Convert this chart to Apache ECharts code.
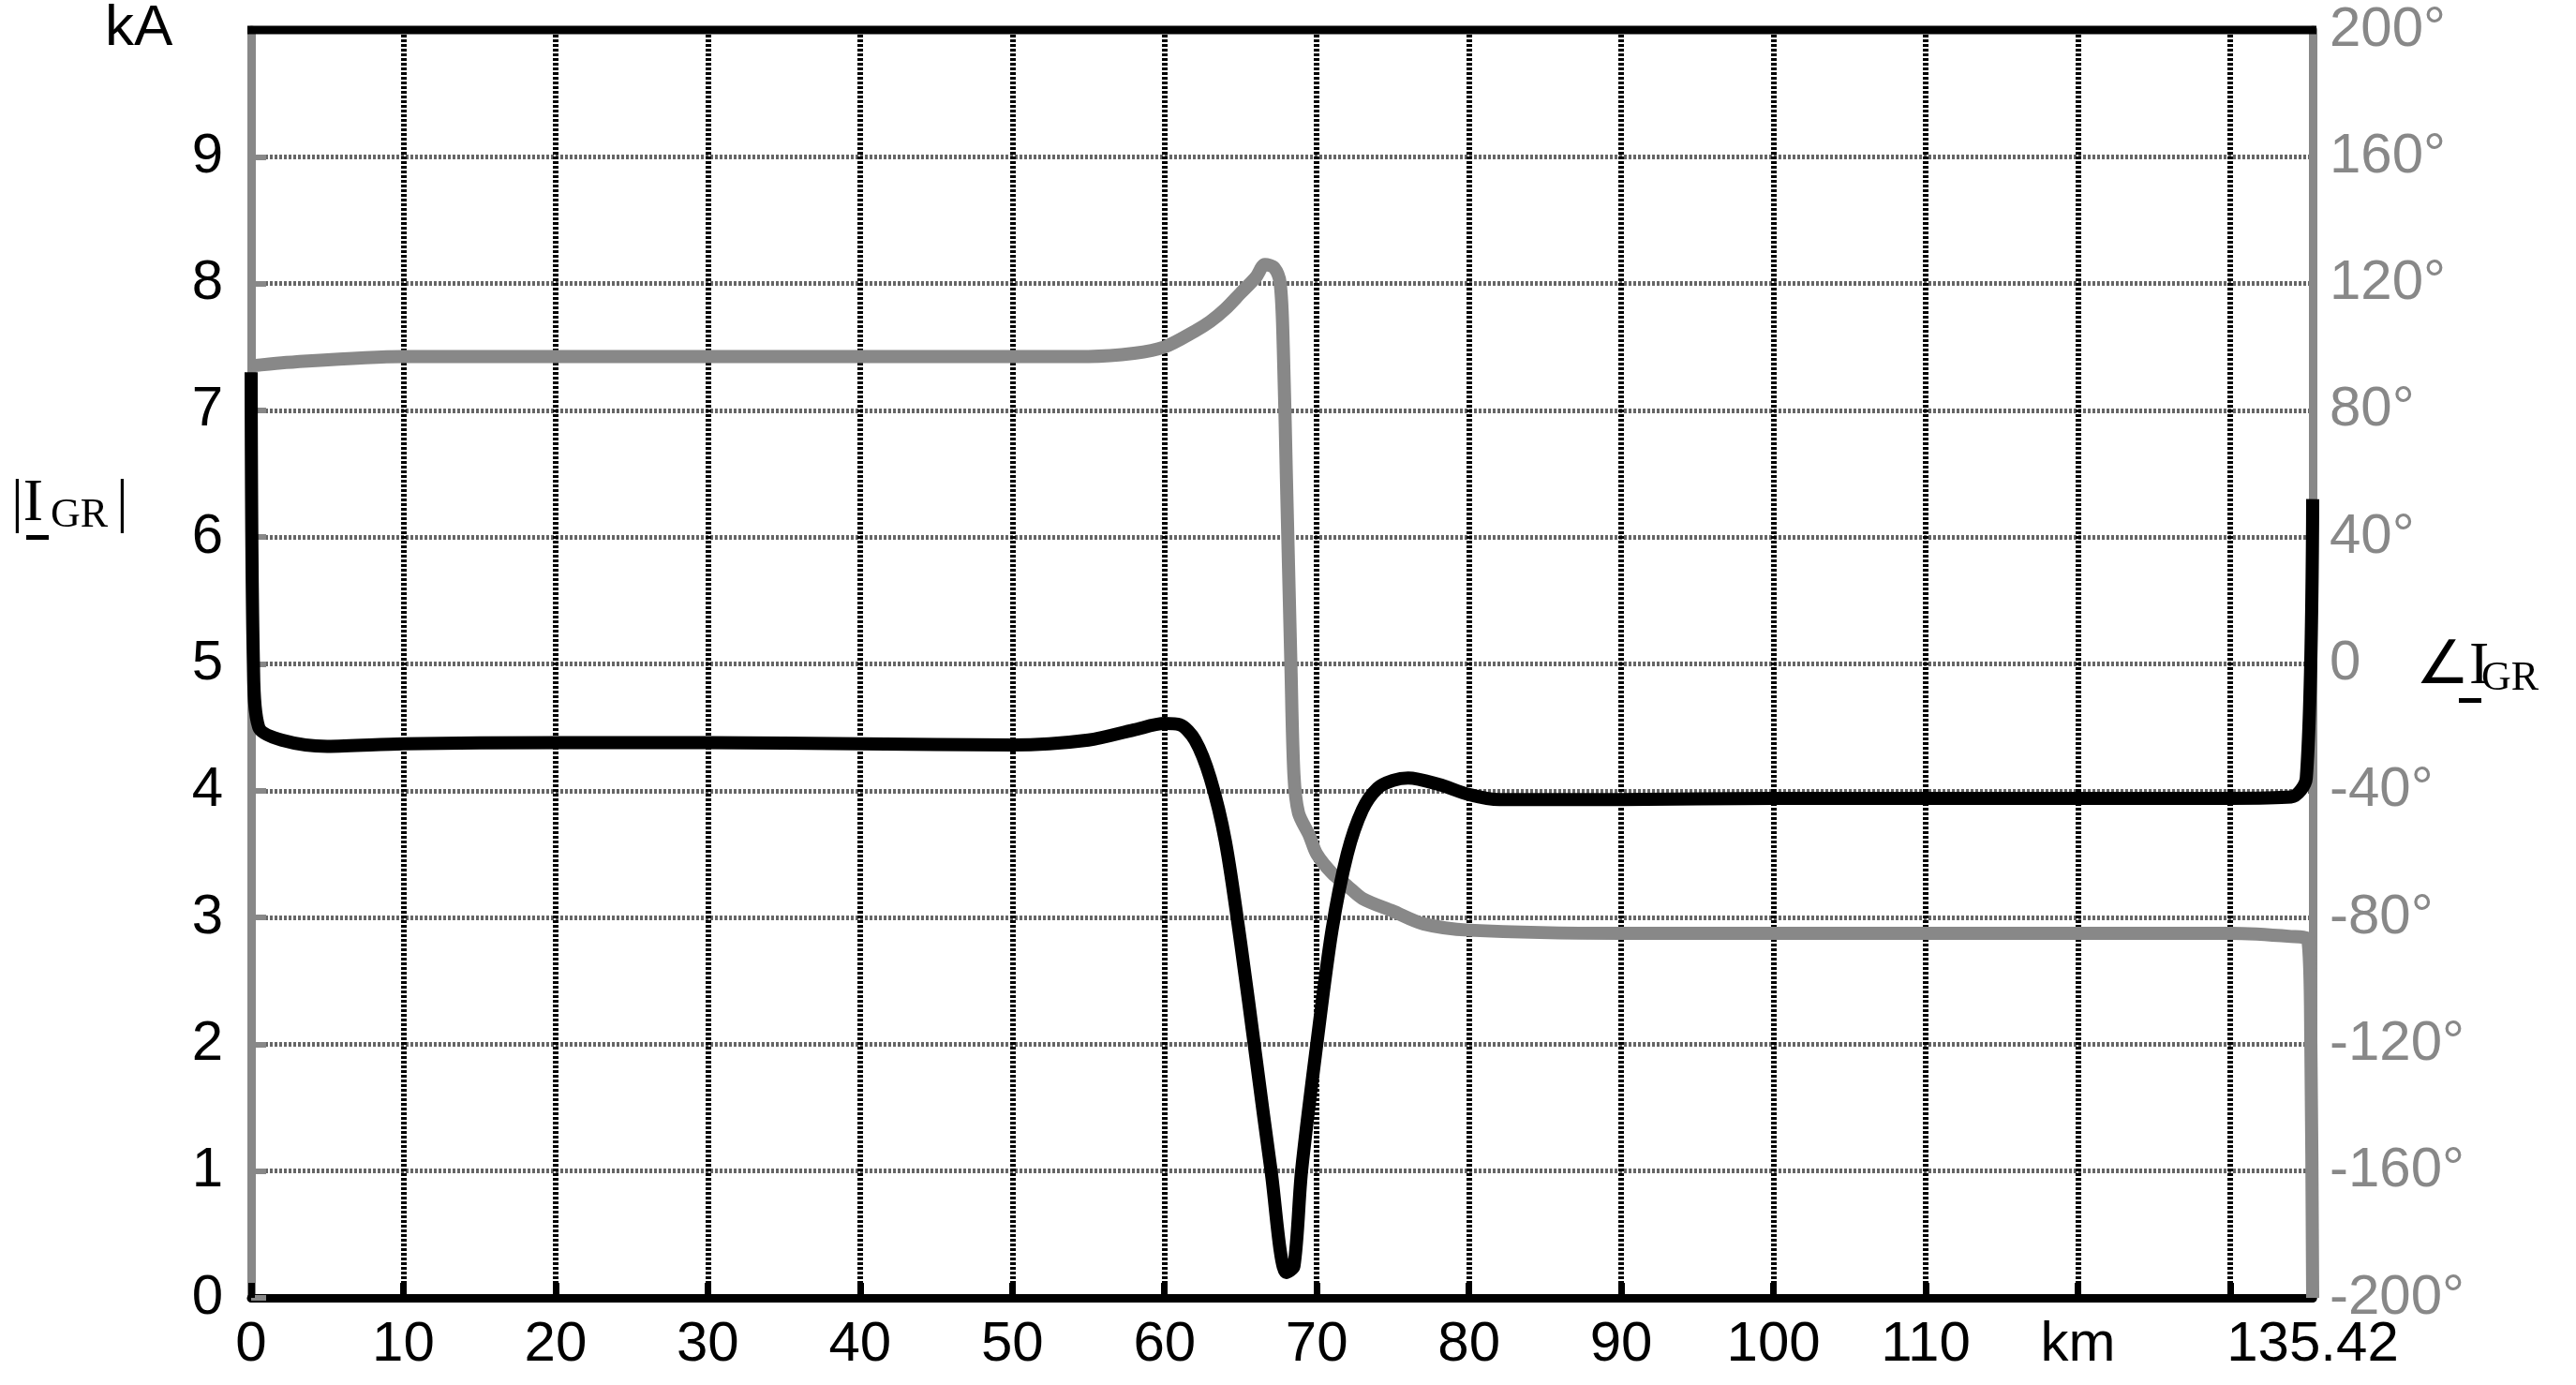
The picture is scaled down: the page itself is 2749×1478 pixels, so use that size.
<!DOCTYPE html>
<html><head><meta charset="utf-8">
<script src="https://cdn.jsdelivr.net/npm/echarts@6/dist/echarts.min.js"></script>
<style>html,body{margin:0;padding:0;background:#fff}#c{width:2749px;height:1478px}</style>
</head><body><div id="c"></div>
<script>
const magKm  = [0,0.15,0.5,2,5,10,20,30,40,50,55,58,60,61,62,63,64,65,66,67,68,68.5,69,70,71,72,73,74,75,76,78,80,82,90,100,110,120,130,134,135,135.42];
const magKA  = [7.3,5.0,4.5,4.4,4.35,4.37,4.38,4.38,4.37,4.36,4.4,4.48,4.53,4.52,4.4,4.1,3.6,2.8,1.9,1.0,0.2,0.25,1.0,2.0,2.9,3.5,3.85,4.02,4.08,4.1,4.05,3.97,3.93,3.93,3.94,3.94,3.94,3.94,3.95,4.1,6.3];
const angKm  = [0,2,10,20,30,40,50,55,58,60,62,63,64,65,66,66.6,67.2,67.6,67.8,68,68.3,68.5,68.8,69.5,70,71,72,73,75,77,80,90,100,110,120,130,134,135.1,135.3,135.42];
const angDeg = [94,95,97,97,97,97,97,97,98,100,105,108,112,117,122,126,125,120,100,60,0,-35,-47,-54,-60,-66,-70,-74,-78,-82,-84,-85,-85,-85,-85,-85,-86,-87,-120,-200];
const kaTicks = [0,1,2,3,4,5,6,7,8,9];
const degTicks = [-200,-160,-120,-80,-40,0,40,80,120,160,200];

const F = 'Liberation Sans, Arial, sans-serif';
const chart = echarts.init(document.getElementById('c'));
chart.setOption({
  animation:false,
  grid:{left:268,right:281,top:32,bottom:93,show:false},
  xAxis:{type:'value',min:0,max:135.42,interval:10,
    axisLine:{show:true,onZero:false,lineStyle:{color:'#000',width:9}},
    axisTick:{show:true,inside:true,length:16,lineStyle:{color:'#000',width:7}},
    axisLabel:{showMaxLabel:true,fontFamily:F,fontSize:60,color:'#000',margin:20,
      formatter:v=>{ if(Math.abs(v-120)<0.01) return 'km'; if(Math.abs(v-130)<0.01) return ''; if(v>135) return '135.42'; return String(v);}},
    splitLine:{show:true,lineStyle:{color:'#000',width:6,type:[3,2]}}},
  yAxis:[
    {type:'value',min:0,max:10,interval:1,position:'left',
      axisLine:{show:true,lineStyle:{color:'#888',width:9}},
      axisTick:{show:true,inside:true,length:16,lineStyle:{color:'#888',width:6}},
      axisLabel:{fontFamily:F,fontSize:60,color:'#000',margin:30,
        formatter:v=>v===10?'':String(v)},
      splitLine:{show:true,lineStyle:{color:'#666',width:5,type:[3,2]}}},
    {type:'value',min:-200,max:200,interval:40,position:'right',
      axisLine:{show:true,lineStyle:{color:'#888',width:9}},
      axisTick:{show:false},
      axisLabel:{fontFamily:F,fontSize:60,color:'#888',margin:18,formatter:v=>v===0?'0':v+'°'},
      splitLine:{show:false}}
  ],
  graphic:[
    {type:'line',shape:{x1:264,y1:32,x2:2472,y2:32},style:{stroke:'#000',lineWidth:9},z:100},
    {type:'text',left:112,top:0,style:{text:'kA',font:'62px '+F,fill:'#000'}},
    {type:'text',left:12,top:506,style:{text:'|I',font:'64px Liberation Serif, serif',fill:'#000'}},
    {type:'text',left:54,top:528,style:{text:'GR',font:'44px Liberation Serif, serif',fill:'#000'}},
    {type:'text',left:124,top:506,style:{text:'|',font:'64px Liberation Serif, serif',fill:'#000'}},
    {type:'rect',shape:{x:28,y:571,width:24,height:5},style:{fill:'#000'}},
    {type:'text',left:2578,top:680,style:{text:'∠I',font:'64px Liberation Serif, serif',fill:'#000'}},
    {type:'text',left:2648,top:702,style:{text:'GR',font:'44px Liberation Serif, serif',fill:'#000'}},
    {type:'rect',shape:{x:2624,y:745,width:24,height:5},style:{fill:'#000'}}
  ],
  series:[
    {type:'line',yAxisIndex:1,showSymbol:false,smooth:0.3,
      data:angKm.map((x,i)=>[x,angDeg[i]]),lineStyle:{color:'#888',width:14},z:3},
    {type:'line',yAxisIndex:0,showSymbol:false,smooth:0.3,
      data:magKm.map((x,i)=>[x,magKA[i]]),lineStyle:{color:'#000',width:14},z:4}
  ]
});
</script></body></html>
